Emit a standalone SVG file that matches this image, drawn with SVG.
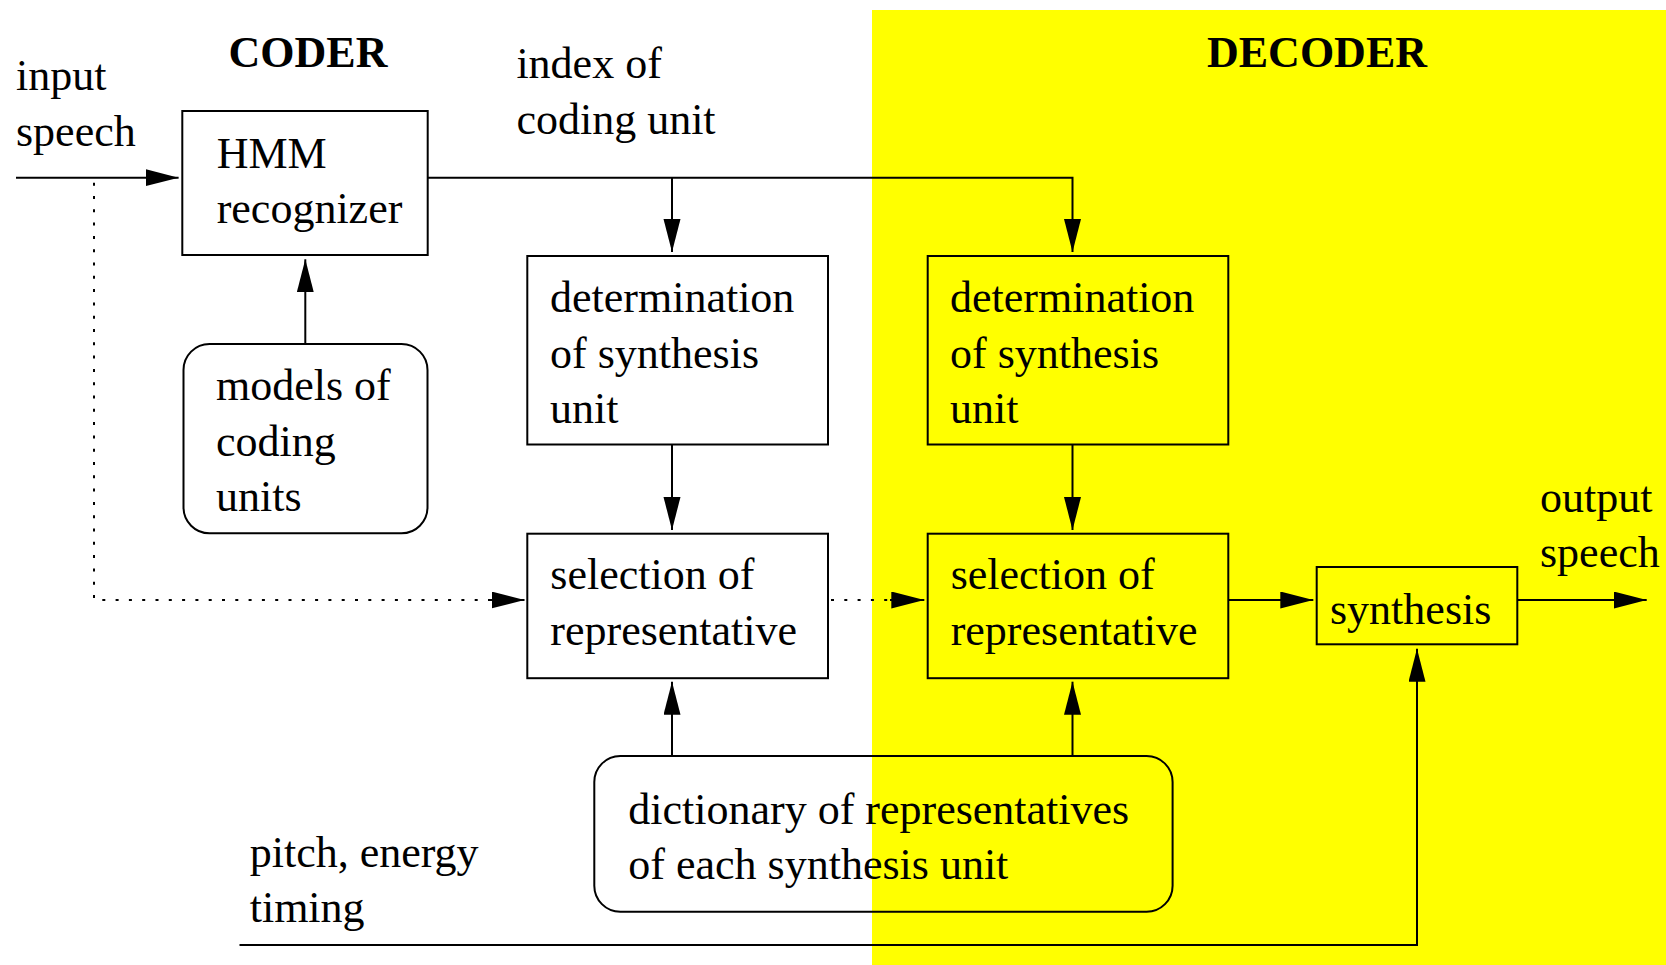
<svg xmlns="http://www.w3.org/2000/svg" width="1666" height="965" viewBox="0 0 1666 965">
<style>
text{font-family:"Liberation Serif","Times New Roman",serif;font-size:44px;fill:#000}
.b{font-weight:bold}
.box{fill:none;stroke:#000;stroke-width:2}
.ln{fill:none;stroke:#000;stroke-width:2}
.dot{fill:none;stroke:#000;stroke-width:2;stroke-dasharray:3 10.3}
</style>
<defs>
<marker id="ah" markerUnits="userSpaceOnUse" markerWidth="34" markerHeight="18" refX="33" refY="8.5" orient="auto">
<path d="M0,0 L33,8.5 L0,17 Z" fill="#000"/>
</marker>
</defs>
<rect x="0" y="0" width="1666" height="965" fill="#fff"/>
<rect id="decoder-area" x="872" y="10" width="794" height="955" fill="#ffff00"/>
<text class="b" x="228.6" y="67">CODER</text>
<text class="b" x="1207" y="67">DECODER</text>
<g id="labels">
<text x="16" y="90">input</text>
<text x="16" y="145.5">speech</text>
<text x="516.4" y="78">index of</text>
<text x="516.4" y="133.5">coding unit</text>
<text x="1540" y="511.5">output</text>
<text x="1540" y="567">speech</text>
<text x="249.7" y="867">pitch, energy</text>
<text x="249.7" y="922">timing</text>
</g>
<g id="hmm">
<rect class="box" x="182.3" y="111" width="245.4" height="144"/>
<text x="216.7" y="167.5">HMM</text>
<text x="216.7" y="222.5">recognizer</text>
</g>
<g id="models">
<rect class="box" x="183.5" y="344" width="244" height="189.3" rx="26" ry="26"/>
<text x="216" y="400">models of</text>
<text x="216" y="455.5">coding</text>
<text x="216" y="510.5">units</text>
</g>
<g id="det1">
<rect class="box" x="527.3" y="256" width="300.7" height="188.5"/>
<text x="550" y="311.5">determination</text>
<text x="550" y="367.5">of synthesis</text>
<text x="550" y="422.7">unit</text>
</g>
<g id="det2">
<rect class="box" x="927.7" y="256" width="300.6" height="188.5"/>
<text x="950" y="311.5">determination</text>
<text x="950" y="367.5">of synthesis</text>
<text x="950" y="422.7">unit</text>
</g>
<g id="sel1">
<rect class="box" x="527.3" y="533.7" width="300.7" height="144.5"/>
<text x="550.3" y="589.3">selection of</text>
<text x="550.3" y="644.5">representative</text>
</g>
<g id="sel2">
<rect class="box" x="927.7" y="533.7" width="300.6" height="144.5"/>
<text x="950.7" y="589.3">selection of</text>
<text x="950.7" y="644.5">representative</text>
</g>
<g id="synthesis">
<rect class="box" x="1316.7" y="567" width="200.6" height="77.3"/>
<text x="1330" y="623.5">synthesis</text>
</g>
<g id="dictionary">
<rect class="box" x="594.3" y="756" width="578.3" height="155.7" rx="26" ry="26"/>
<text x="628.3" y="823.5">dictionary of representatives</text>
<text x="628.3" y="878.5">of each synthesis unit</text>
</g>
<g id="connectors">
<path class="ln" d="M16,177.7 H178.6" marker-end="url(#ah)"/>
<path class="ln" d="M427.7,177.7 H1072.5 V252" marker-end="url(#ah)"/>
<path class="ln" d="M672,177.7 V252" marker-end="url(#ah)"/>
<path class="ln" d="M305.3,344 V259.3" marker-end="url(#ah)"/>
<path class="ln" d="M672,444.5 V530" marker-end="url(#ah)"/>
<path class="ln" d="M1072.5,444.5 V530" marker-end="url(#ah)"/>
<path class="dot" d="M94,182.7 V600 H490"/>
<path class="ln" d="M490,600 H524.5" marker-end="url(#ah)"/>
<path class="dot" d="M831,600 H890"/>
<path class="ln" d="M890,600 H924.3" marker-end="url(#ah)"/>
<path class="ln" d="M1228.3,600 H1313.3" marker-end="url(#ah)"/>
<path class="ln" d="M1517.3,600 H1646.7" marker-end="url(#ah)"/>
<path class="ln" d="M672,756 V681.7" marker-end="url(#ah)"/>
<path class="ln" d="M1072.5,756 V681.7" marker-end="url(#ah)"/>
<path class="ln" d="M239.5,945 H1417 V648.7" marker-end="url(#ah)"/>
</g>
</svg>
